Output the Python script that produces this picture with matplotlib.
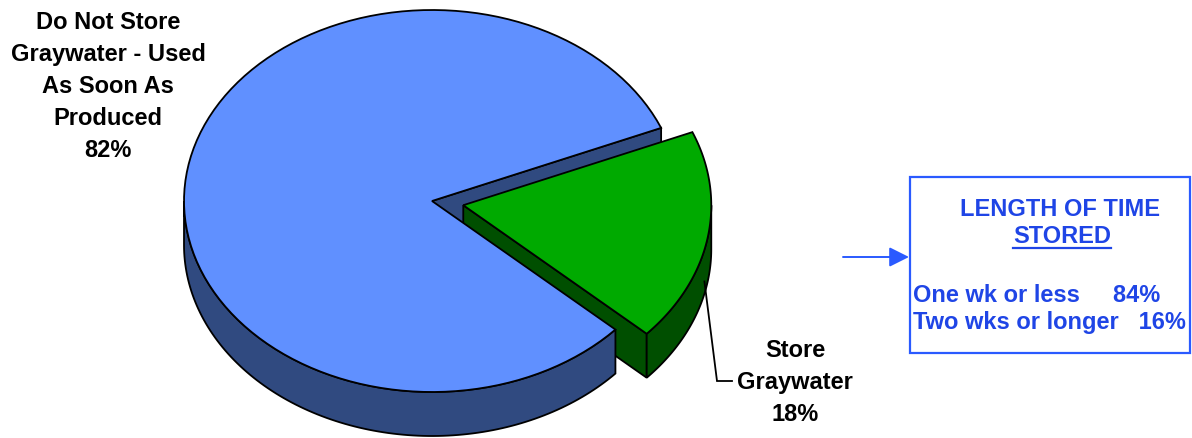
import numpy as np
import matplotlib.pyplot as plt
from matplotlib.patches import Polygon, Rectangle

plt.rcParams['font.family'] = ['Liberation Sans', 'DejaVu Sans']
plt.rcParams['font.weight'] = 'bold'

# data
categories = ["Do Not Store\nGraywater - Used\nAs Soon As\nProduced", "Store\nGraywater"]
values = [82, 18]
explode = [0.0, 0.128]
top_colors = ['#6090ff', '#00aa00']
side_colors = ['#304a80', '#004f00']

box_title = ["LENGTH OF TIME", "STORED"]
stored_labels = ["One wk or less", "Two wks or longer"]
stored_values = [84, 16]
stored_gaps = ["     ", "   "]

# pie geometry (pixel space)
cx, cy = 432, 201
rx, ry = 248, 191
depth = 44
split_angle = 22.5   # edge between the two slices

fig = plt.figure(figsize=(11.92, 4.38), dpi=100)
ax = fig.add_axes([0, 0, 1, 1])
ax.set_xlim(0, 1192)
ax.set_ylim(438, 0)
ax.axis('off')

total = float(sum(values))
spans = [v / total * 360 for v in values]
# green slice sits clockwise of the split, blue counterclockwise
angles = [(split_angle, split_angle + spans[0]), (split_angle - spans[1], split_angle)]


def pt(theta, off, z=0):
    t = np.radians(theta)
    return cx + off[0] + rx * np.cos(t), cy + off[1] - ry * np.sin(t) + z


def arc(a0, a1, off, z=0, n=120):
    th = np.linspace(a0, a1, n)
    return [pt(t, off, z) for t in th]


offsets = []
for i, (a0, a1) in enumerate(angles):
    mid = np.radians((a0 + a1) / 2)
    offsets.append((explode[i] * rx * np.cos(mid), -explode[i] * ry * np.sin(mid)))

lw = 1.3


def cut_wall(i, a):
    off = offsets[i]
    c = (cx + off[0], cy + off[1])
    poly = [c, pt(a, off), pt(a, off, depth), (c[0], c[1] + depth)]
    ax.add_patch(Polygon(poly, closed=True, fc=side_colors[i], ec='black', lw=lw))


def outer_wall(i):
    a0, a1 = angles[i]
    off = offsets[i]
    for lo, hi in [(-180, 0), (180, 360)]:
        s, e = max(a0, lo), min(a1, hi)
        if e > s:
            poly = arc(s, e, off) + arc(s, e, off, depth)[::-1]
            ax.add_patch(Polygon(poly, closed=True, fc=side_colors[i], ec='black', lw=lw))


def top_face(i):
    a0, a1 = angles[i]
    off = offsets[i]
    poly = [(cx + off[0], cy + off[1])] + arc(a0, a1, off)
    ax.add_patch(Polygon(poly, closed=True, fc=top_colors[i], ec='black', lw=lw))


# back to front
cut_wall(0, angles[0][0])
cut_wall(1, angles[1][0])
outer_wall(1)
top_face(1)
outer_wall(0)
top_face(0)

# labels
line_h = 32
lab0 = categories[0].split("\n") + ["%d%%" % values[0]]
for k, s in enumerate(lab0):
    ax.text(108, 29 + k * line_h, s, ha='center', va='baseline', fontsize=17, color='black')

lab1 = categories[1].split("\n") + ["%d%%" % values[1]]
for k, s in enumerate(lab1):
    ax.text(795, 357 + k * line_h, s, ha='center', va='baseline', fontsize=17, color='black')

# leader line from the green slice wall
lx, ly = pt(-13.5, offsets[1], depth * 0.72)
ax.plot([lx, 717, 732], [ly, 381, 381], color='black', lw=1.3, solid_joinstyle='miter')

# storage box
blue_txt = '#1f45e6'
ax.add_patch(Rectangle((910, 177), 280, 176, fill=False, ec='#2a5aff', lw=1.6))
ax.text(1060, 216, box_title[0], ha='center', va='baseline', fontsize=17, color=blue_txt)
ax.text(1062, 243, box_title[1], ha='center', va='baseline', fontsize=17, color=blue_txt)
ax.plot([1013, 1111], [247.5, 247.5], color=blue_txt, lw=1.6)
for k, (s, v, g) in enumerate(zip(stored_labels, stored_values, stored_gaps)):
    ax.text(913, 302 + k * 27, "%s%s%d%%" % (s, g, v), ha='left', va='baseline', fontsize=17, color=blue_txt)

ax.annotate('', xy=(909, 257), xytext=(843, 257),
            arrowprops=dict(arrowstyle='-|>', color='#2a5aff', lw=1.4, mutation_scale=30,
                            shrinkA=0, shrinkB=0))

fig.savefig('out.png', dpi=100)
